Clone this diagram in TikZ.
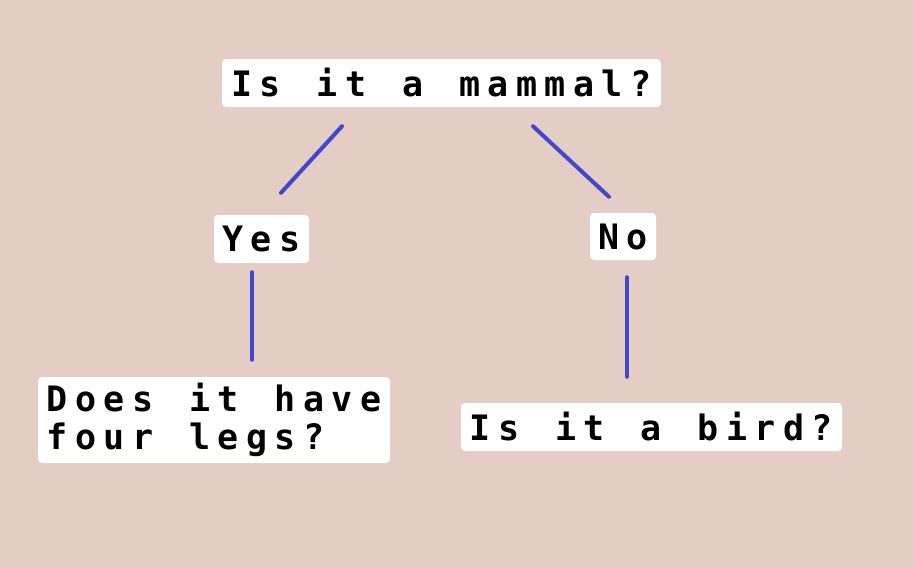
\documentclass[tikz,border=0pt]{standalone}
\usepackage{fontspec}
\newfontfamily\pxfont{DejaVu Sans Mono Bold}
\ExplSyntaxOn
\NewDocumentCommand\px{m}{\str_map_inline:nn {#1} {\makebox[28.5pt][c]{##1}}}
\ExplSyntaxOff
\definecolor{bgc}{RGB}{228,205,196}
\definecolor{linec}{RGB}{64,72,204}
\tikzset{
  box/.style={fill=white, rounded corners=4pt, inner sep=0pt, align=left, font=\pxfont\fontsize{35}{38}\selectfont, text=black},
  conn/.style={draw=linec, line width=4pt, line cap=round}
}
\begin{document}
\begin{tikzpicture}[x=1pt,y=-1pt]
\fill[bgc] (0,0) rectangle (914,568);
\useasboundingbox (0,0) rectangle (914,568);
\node[box, minimum width=439pt, minimum height=48pt] (top) at (441.5,83) {\px{Is it a mammal?}};
\node[box, minimum width=95pt, minimum height=48pt] (yes) at (261.5,239) {\px{Yes}};
\node[box, minimum width=66pt, minimum height=47pt] (no) at (623,236.5) {\px{No}};
\node[box, minimum width=352pt, minimum height=86pt] (does) at (214,420) {\px{Does it have}\\\px{four legs?}};
\node[box, minimum width=381pt, minimum height=48pt] (bird) at (651.5,427) {\px{Is it a bird?}};
\draw[conn] ([xshift=-99.5pt,yshift=-19pt]top.south) -- ([xshift=19.5pt,yshift=22pt]yes.north);
\draw[conn] ([xshift=91.5pt,yshift=-19pt]top.south) -- ([xshift=-14pt,yshift=16pt]no.north);
\draw[conn] ([xshift=-9.5pt,yshift=-9pt]yes.south) -- ([xshift=38pt,yshift=17pt]does.north);
\draw[conn] ([xshift=4pt,yshift=-17pt]no.south) -- ([xshift=-24.5pt,yshift=26pt]bird.north);
\end{tikzpicture}
\end{document}
